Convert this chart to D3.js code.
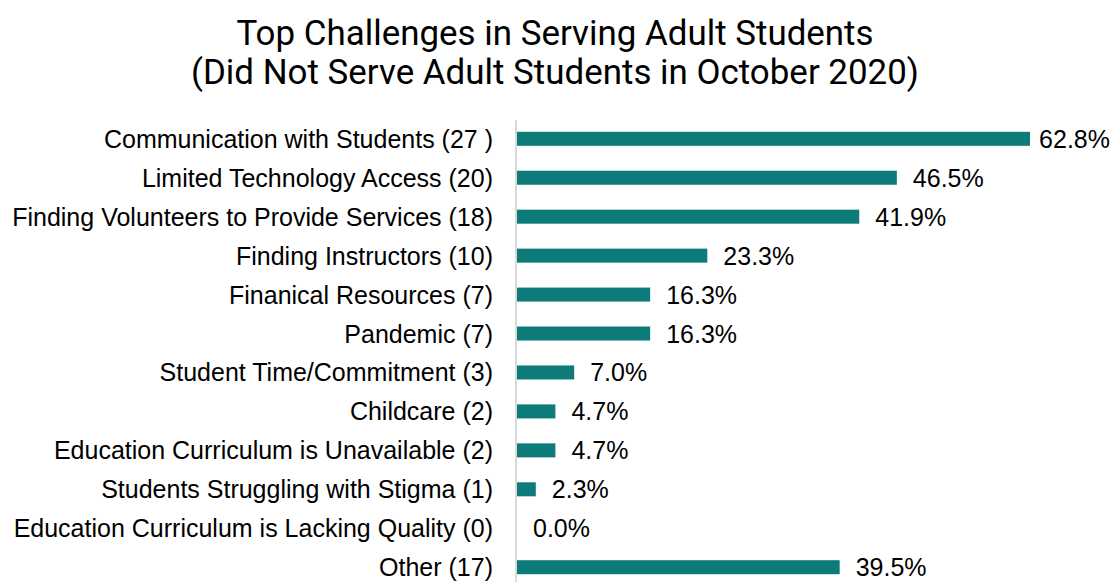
<!DOCTYPE html>
<html>
<head>
<meta charset="utf-8">
<script src="https://cdn.jsdelivr.net/npm/d3@7"></script>
<style>
  html, body { margin: 0; padding: 0; background: #fff; }
  #chart { width: 1116px; height: 582px; }
</style>
</head>
<body>
<div id="chart"></div>
<script>
const categories = [
    "Communication with Students (27 )",
    "Limited Technology Access (20)",
    "Finding Volunteers to Provide Services (18)",
    "Finding Instructors (10)",
    "Finanical Resources (7)",
    "Pandemic (7)",
    "Student Time/Commitment (3)",
    "Childcare (2)",
    "Education Curriculum is Unavailable (2)",
    "Students Struggling with Stigma (1)",
    "Education Curriculum is Lacking Quality (0)",
    "Other (17)"
];
const values = [62.8, 46.5, 41.9, 23.3, 16.3, 16.3, 7.0, 4.7, 4.7, 2.3, 0.0, 39.5];
const titleLines = [
    "Top Challenges in Serving Adult Students",
    "(Did Not Serve Adult Students in October 2020)"
];

const W = 1116, H = 582;
const margin = { top: 124, left: 517 };
const labelFont = "'Liberation Sans', Arial, sans-serif";

const svg = d3.select("#chart").append("svg")
    .attr("width", W)
    .attr("height", H);

// title
svg.append("g")
    .attr("transform", "translate(555,0) scale(0.97,1)")
    .selectAll("text")
    .data(titleLines)
    .join("text")
    .attr("x", 0)
    .attr("y", (d, i) => 45 + i * 39)
    .attr("text-anchor", "middle")
    .style("font-family", "Roboto, sans-serif")
    .style("font-size", "36px")
    .style("fill", "#000")
    .text(d => d);

const x = d3.scaleLinear()
    .domain([0, 62.8])
    .range([margin.left, 1030]);

const y = d3.scaleBand()
    .domain(categories)
    .range([margin.top, H])
    .paddingInner(0.64)
    .paddingOuter(0.2);

// vertical axis line
svg.append("line")
    .attr("x1", margin.left - 1)
    .attr("x2", margin.left - 1)
    .attr("y1", 120)
    .attr("y2", H)
    .attr("stroke", "#d9d9d9")
    .attr("stroke-width", 2);

const yAxis = svg.append("g")
    .attr("transform", `translate(${margin.left - 24},0)`)
    .call(d3.axisLeft(y).tickSize(0).tickPadding(0));
yAxis.select(".domain").remove();
yAxis.selectAll("text")
    .attr("dy", "0.36em")
    .style("font-family", labelFont)
    .style("font-size", "25px")
    .style("fill", "#000");

svg.append("g")
    .selectAll("rect")
    .data(values)
    .join("rect")
    .attr("x", x(0))
    .attr("y", (d, i) => y(categories[i]))
    .attr("width", d => x(d) - x(0))
    .attr("height", y.bandwidth())
    .attr("fill", "#0e7b7b");

svg.append("g")
    .selectAll("text")
    .data(values)
    .join("text")
    .attr("y", (d, i) => y(categories[i]) + y.bandwidth() / 2)
    .attr("dy", "0.36em")
    .style("font-family", labelFont)
    .style("font-size", "25px")
    .style("fill", "#000")
    .text(d => d.toFixed(1) + "%")
    .attr("x", function(d) {
        const tw = this.getComputedTextLength();
        return Math.min(x(d) + 16, W - 6 - tw);
    });
</script>
</body>
</html>
